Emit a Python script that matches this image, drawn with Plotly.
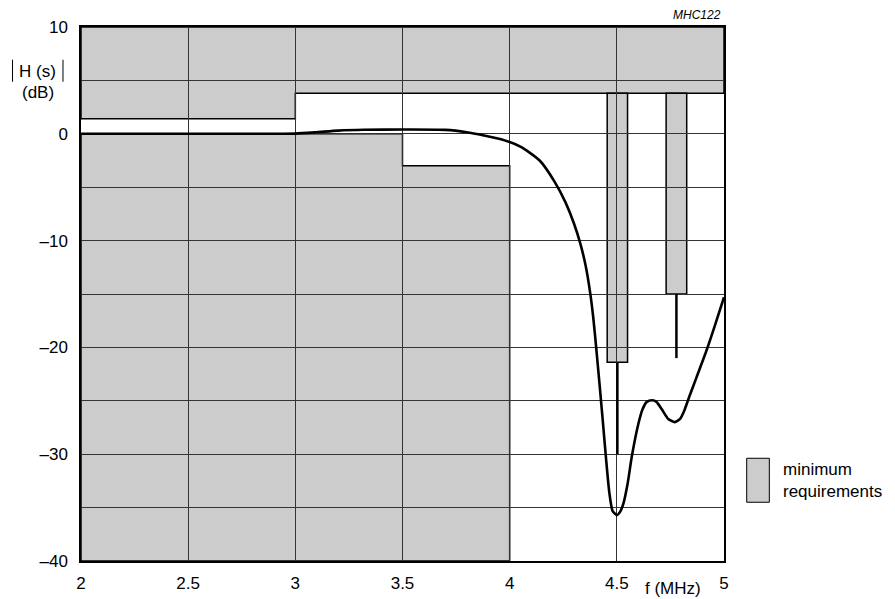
import plotly.graph_objects as go

# ---- data ----
freq_mhz = [2.0, 2.5, 2.9, 3.0, 3.1, 3.2, 3.32, 3.5, 3.7, 3.8, 3.88, 3.96, 4.05, 4.14,
            4.21, 4.26, 4.30, 4.33, 4.355, 4.375, 4.39, 4.405, 4.42, 4.435, 4.45, 4.465,
            4.48, 4.5, 4.515, 4.531, 4.55, 4.57, 4.6, 4.62, 4.64, 4.665, 4.685, 4.71,
            4.74, 4.77, 4.795, 4.815, 4.84, 4.87, 4.92, 4.96, 5.0]
gain_db = [0.0, 0.0, 0.0, 0.02, 0.15, 0.3, 0.38, 0.4, 0.37, 0.15, -0.15, -0.5, -1.2, -2.5,
           -4.5, -6.4, -8.4, -10.3, -12.4, -14.8, -17.2, -20.3, -23.6, -27.0, -30.5, -33.6,
           -35.3, -35.7, -35.4, -34.6, -32.8, -30.2, -27.2, -25.8, -25.1, -24.95, -25.1, -25.8,
           -26.7, -27.0, -26.7, -25.9, -24.5, -22.9, -20.2, -17.8, -15.3]

# upper limit mask (polygon vertices)
upper_mask_x = [2.0, 5.0, 5.0, 3.0, 3.0, 2.0]
upper_mask_y = [10.0, 10.0, 3.8, 3.8, 1.4, 1.4]
# lower limit mask
lower_mask_x = [2.0, 3.5, 3.5, 4.0, 4.0, 2.0]
lower_mask_y = [0.0, 0.0, -3.0, -3.0, -40.0, -40.0]
# trap (notch) requirement boxes: x0, x1, top, bottom, stem end
trap_x0 = [4.455, 4.73]
trap_x1 = [4.55, 4.826]
trap_top = [3.8, 3.8]
trap_bottom = [-21.4, -15.0]
trap_stem_end = [-30.0, -21.0]

x_ticks = [2, 2.5, 3, 3.5, 4, 4.5, 5]
x_labels = ["2", "2.5", "3", "3.5", "4", "4.5", "5"]
y_ticks = [-40, -35, -30, -25, -20, -15, -10, -5, 0, 5, 10]
y_labels = ["\u201340", "", "\u201330", "", "\u201320", "", "\u201310", "", "0", "", "10"]

FONT = "Liberation Sans, Arial, Helvetica, sans-serif"
GRAY = "#cccccc"
FS = 17

def poly_path(xs, ys):
    return "M " + " L ".join(f"{x},{y}" for x, y in zip(xs, ys)) + " Z"

shapes = [
    dict(type="path", path=poly_path(upper_mask_x, upper_mask_y), xref="x", yref="y",
         fillcolor=GRAY, line=dict(color="black", width=1.5), layer="below"),
    dict(type="path", path=poly_path(lower_mask_x, lower_mask_y), xref="x", yref="y",
         fillcolor=GRAY, line=dict(color="black", width=1.5), layer="below"),
]
for x0, x1, t, b in zip(trap_x0, trap_x1, trap_top, trap_bottom):
    shapes.append(dict(type="rect", x0=x0, x1=x1, y0=b, y1=t, xref="x", yref="y",
                       fillcolor=GRAY, line=dict(color="black", width=1.5), layer="below"))
# legend swatch
shapes.append(dict(type="rect", xref="paper", yref="paper", x0=1.0353, x1=1.0705,
                   y0=0.110, y1=0.1924, fillcolor=GRAY, line=dict(color="black", width=1)))
# absolute-value bars of the y-axis title
for bx in [-0.1065, -0.028]:
    shapes.append(dict(type="line", xref="paper", yref="paper", x0=bx, x1=bx,
                       y0=0.8975, y1=0.9387, line=dict(color="black", width=1)))

fig = go.Figure()
for x0, x1, b, e in zip(trap_x0, trap_x1, trap_bottom, trap_stem_end):
    xc = (x0 + x1) / 2
    fig.add_trace(go.Scatter(x=[xc, xc], y=[b, e], mode="lines",
                             line=dict(color="black", width=2.5), showlegend=False,
                             hoverinfo="skip"))

fig.add_trace(go.Scatter(x=freq_mhz, y=gain_db, mode="lines",
                         line=dict(color="black", width=2.6, shape="spline", smoothing=0.6),
                         showlegend=False))

fig.update_layout(
    width=895, height=599, autosize=False,
    margin=dict(l=81, r=171, t=27, b=38, autoexpand=False),
    paper_bgcolor="white", plot_bgcolor="white",
    font=dict(family=FONT, size=FS, color="black"),
    showlegend=False,
    shapes=shapes,
    annotations=[
        dict(text="H (s)", xref="paper", yref="paper", x=-0.067, y=0.9165,
             showarrow=False, xanchor="center", yanchor="middle", font=dict(size=FS)),
        dict(text="(dB)", xref="paper", yref="paper", x=-0.067, y=0.878,
             showarrow=False, xanchor="center", yanchor="middle", font=dict(size=FS)),
        dict(text="f (MHz)", xref="paper", yref="paper", x=0.9207, y=-0.0506,
             showarrow=False, xanchor="center", yanchor="middle", font=dict(size=FS)),
        dict(text="<i>MHC122</i>", xref="paper", yref="paper", x=0.9984, y=1.023,
             showarrow=False, xanchor="right", yanchor="middle", font=dict(size=12)),
        dict(text="minimum<br>requirements", xref="paper", yref="paper", x=1.0887, y=0.1505,
             showarrow=False, xanchor="left", yanchor="middle", align="left",
             font=dict(size=FS)),
    ],
)
fig.update_xaxes(range=[2, 5], tickvals=x_ticks, ticktext=x_labels, showgrid=True,
                 gridcolor="#333333", gridwidth=1, zeroline=False, showline=True,
                 linecolor="black", linewidth=1.5, mirror=True, ticks="",
                 ticklabelstandoff=6, tickfont=dict(size=FS), automargin=False)
fig.update_yaxes(range=[-40, 10], tickvals=y_ticks, ticktext=y_labels, showgrid=True,
                 gridcolor="#333333", gridwidth=1, zeroline=False, showline=True,
                 linecolor="black", linewidth=1.5, mirror=True, ticks="",
                 ticklabelstandoff=8, tickfont=dict(size=FS), automargin=False)

fig.write_html("out.html")
